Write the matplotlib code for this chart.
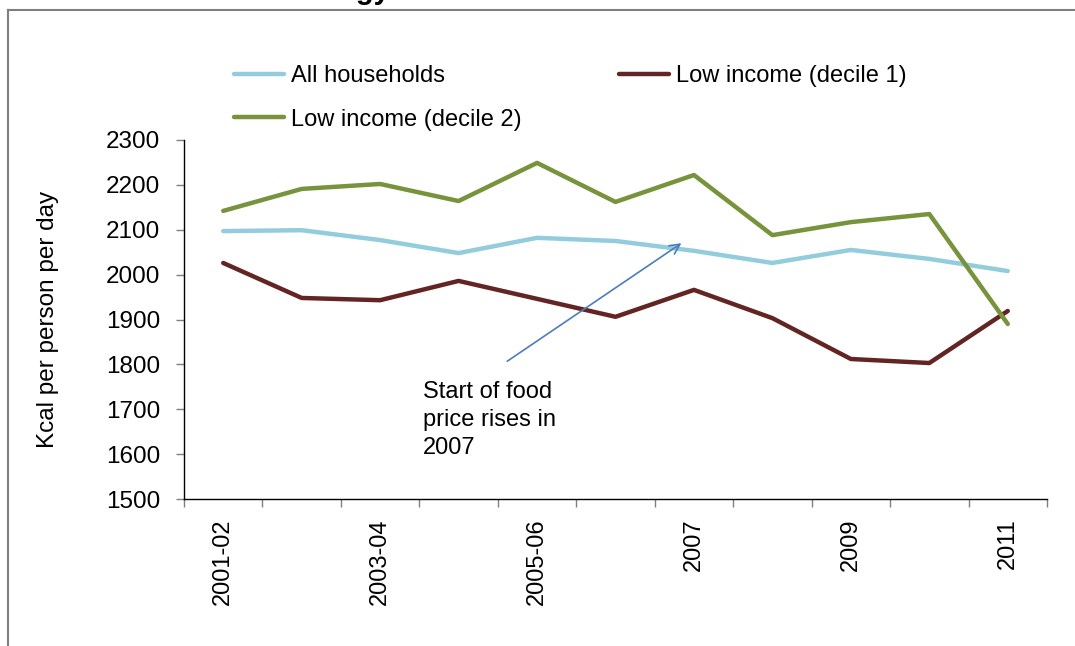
import matplotlib
matplotlib.use("Agg")
import matplotlib.pyplot as plt
from matplotlib.lines import Line2D

plt.rcParams['font.family'] = ['Liberation Sans', 'DejaVu Sans']

categories = ["2001-02", "2002-03", "2003-04", "2004-05", "2005-06", "2006",
              "2007", "2008", "2009", "2010", "2011"]
tick_labels = ["2001-02", "", "2003-04", "", "2005-06", "", "2007", "", "2009", "", "2011"]
all_households = [2097, 2099, 2077, 2048, 2082, 2075, 2053, 2026, 2055, 2035, 2008]
decile1 = [2026, 1948, 1943, 1986, 1946, 1906, 1966, 1903, 1812, 1803, 1919]
decile2 = [2142, 2191, 2202, 2164, 2249, 2162, 2222, 2088, 2117, 2135, 1890]
yticks = [1500, 1600, 1700, 1800, 1900, 2000, 2100, 2200, 2300]

c_all = '#93CDDD'
c_d1 = '#632523'
c_d2 = '#77933C'
c_arrow = '#4A7EBB'

W, H = 1075, 646
fig = plt.figure(figsize=(W / 100, H / 100), dpi=100)
ax = fig.add_axes([184 / W, 1 - 499 / H, (1047 - 184) / W, (499 - 140) / H])

x = list(range(len(categories)))
l_all, = ax.plot(x, all_households, color=c_all, lw=3.2, solid_capstyle='round', label='All households')
l_d1, = ax.plot(x, decile1, color=c_d1, lw=3.2, solid_capstyle='round', label='Low income (decile 1)')
l_d2, = ax.plot(x, decile2, color=c_d2, lw=3.2, solid_capstyle='round', label='Low income (decile 2)')

ax.set_xlim(-0.5, len(categories) - 0.5)
ax.set_ylim(1500, 2300)
ax.set_yticks(yticks)
ax.set_yticklabels([str(v) for v in yticks], fontsize=17.5)

# major ticks at category boundaries, labels at centres via minor ticks
ax.set_xticks([i - 0.5 for i in range(len(categories) + 1)])
ax.set_xticklabels([])
ax.set_xticks(x, minor=True)
ax.set_xticklabels(tick_labels, minor=True, rotation=90, fontsize=17, va='top')
ax.tick_params(axis='x', which='major', direction='out', length=6, width=1, color='#7f7f7f')
ax.tick_params(axis='x', which='minor', length=0, pad=14)
ax.tick_params(axis='y', direction='out', length=6, width=1, color='#7f7f7f', pad=11)

for s in ['top', 'right']:
    ax.spines[s].set_visible(False)
for s in ['left', 'bottom']:
    ax.spines[s].set_color('black')
    ax.spines[s].set_linewidth(1)

ax.set_ylabel('Kcal per person per day', fontsize=17.5)
ax.yaxis.set_label_coords(-0.145, 0.5)

# annotation
ax.annotate('', xy=(5.84, 2070), xytext=(3.62, 1807),
            arrowprops=dict(arrowstyle='->', color=c_arrow, lw=1.2,
                            mutation_scale=18, shrinkA=0, shrinkB=0))
ax.text(2.55, 1762, 'Start of food\nprice rises in\n2007', fontsize=17,
        ha='left', va='top', linespacing=1.34)

# legend
fig.legend(handles=[l_all, l_d2, l_d1], loc='upper left',
           bbox_to_anchor=(234 / W, 1 - 65 / H), ncol=2, frameon=False,
           fontsize=17, handlelength=2.12, handletextpad=0.3,
           columnspacing=4.1, labelspacing=0.92, borderpad=0, borderaxespad=0)

# outer border (partially cut off) and cut title
fig.add_artist(Line2D([8 / W, 1.0], [1 - 10 / H, 1 - 10 / H], color='#7f7f7f', lw=1.5,
                      transform=fig.transFigure))
fig.add_artist(Line2D([8 / W, 8 / W], [0, 1 - 10 / H], color='#7f7f7f', lw=1.5,
                      transform=fig.transFigure))
fig.text(390 / W, 1 + 1 / H, 'Energy', fontsize=21, fontweight='bold', ha='right', va='baseline')

fig.savefig('out.png', dpi=100)
